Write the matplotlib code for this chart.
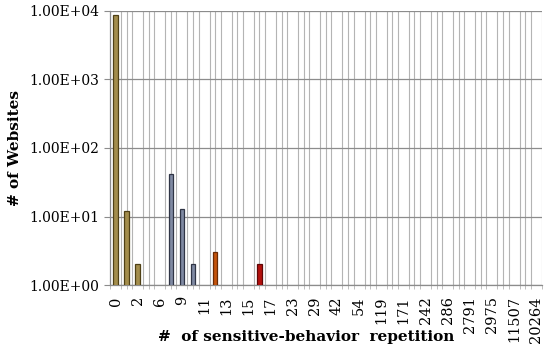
import numpy as np
import matplotlib
matplotlib.use("Agg")
import matplotlib.pyplot as plt
from matplotlib.ticker import FixedLocator, FuncFormatter

# categories on the x axis (only every second one is labelled in the chart)
categories = ["0", "1", "2", "4", "6", "8", "9", "10", "11", "12", "13", "14",
              "15", "16", "17", "20", "23", "26", "29", "35", "42", "48", "54",
              "87", "119", "145", "171", "200", "242", "260", "286", "1500",
              "2791", "2900", "2975", "8000", "11507", "15000", "20264"]

# number of websites per repetition count, one dict per coloured group
gold_vals = {"0": 8600, "1": 12, "2": 2}
slate_vals = {"8": 42, "9": 13, "10": 2}
orange_vals = {"12": 3}
red_vals = {"16": 2}

groups = [
    (gold_vals, "#a38d4c", "#4f4015"),
    (slate_vals, "#7f89a2", "#2f3445"),
    (orange_vals, "#c4540c", "#6a2a04"),
    (red_vals, "#b3100c", "#5e0505"),
]

plt.rcParams['font.family'] = 'DejaVu Serif'

fig = plt.figure(figsize=(5.5, 3.49), dpi=100)
ax = fig.add_axes([0.2, 0.183, 0.785, 0.786])

n = len(categories)
x = np.arange(n)

for vals, face, edge in groups:
    idx = [categories.index(k) for k in vals]
    ax.bar(idx, list(vals.values()), width=0.42,
           color=face, edgecolor=edge, linewidth=0.9, zorder=3)

ax.set_yscale('log')
ax.set_ylim(1, 1e4)
ax.set_xlim(-0.5, n - 0.5)

ax.yaxis.set_major_locator(FixedLocator([1, 10, 100, 1000, 10000]))
ax.yaxis.set_minor_locator(FixedLocator([]))
ax.yaxis.set_major_formatter(FuncFormatter(lambda v, p: f"{v:.2E}"))

ax.set_xticks(x[::2])
ax.set_xticklabels(categories[::2], rotation=90)
ax.set_xticks(np.arange(-0.5, n, 0.5), minor=True)

ax.grid(axis='y', which='major', color='#8c8c8c', linewidth=0.9, zorder=0)
ax.grid(axis='x', which='minor', color='#b4b4b4', linewidth=0.8, zorder=0)
ax.set_axisbelow(True)

for s in ['top', 'right']:
    ax.spines[s].set_visible(False)
for s in ['left', 'bottom']:
    ax.spines[s].set_color('#8c8c8c')
    ax.spines[s].set_linewidth(0.9)

ax.tick_params(axis='y', which='major', length=4, color='#8c8c8c', labelsize=10, pad=4)
ax.tick_params(axis='x', which='major', length=0, labelsize=10.5, pad=8)
ax.tick_params(axis='x', which='minor', length=3, color='#b4b4b4')

ax.set_ylabel("# of Websites", fontsize=11, fontweight='bold', labelpad=5)
fig.text(306 / 550, 1 - 337 / 349, "#  of sensitive-behavior  repetition",
         ha='center', va='center', fontsize=11, fontweight='bold')

fig.savefig("out.png", dpi=100)
